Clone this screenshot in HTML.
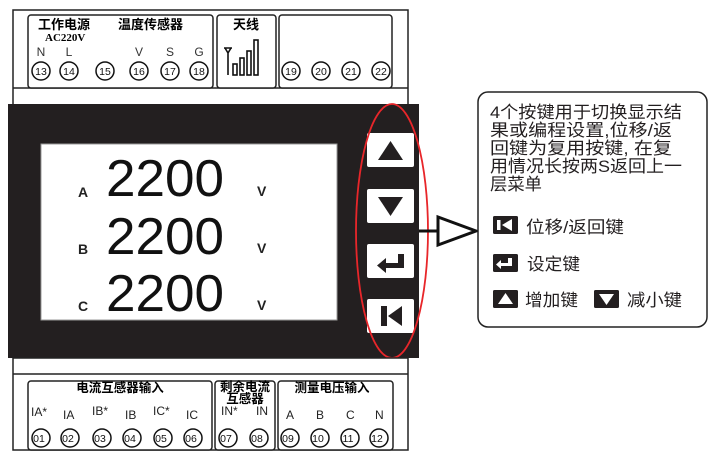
<!DOCTYPE html>
<html><head><meta charset="utf-8"><style>
html,body{margin:0;padding:0;background:#fff;}
svg{display:block;}
text{font-family:"Liberation Sans","Noto Sans CJK SC",sans-serif;}
.cj{font-family:"Liberation Sans","Noto Sans CJK SC",sans-serif;font-weight:bold;}
</style></head><body>
<svg width="718" height="462" viewBox="0 0 718 462" xmlns="http://www.w3.org/2000/svg">
<rect x="13" y="10" width="395" height="96" fill="#fff" stroke="#222" stroke-width="1.5"/>
<line x1="13" y1="88" x2="408" y2="88" stroke="#222" stroke-width="1.5"/>
<rect x="28" y="15" width="185" height="73" rx="3" fill="#fff" stroke="#222" stroke-width="1.5"/>
<rect x="217" y="15" width="59" height="73" rx="3" fill="#fff" stroke="#222" stroke-width="1.5"/>
<rect x="279" y="15" width="113" height="73" rx="3" fill="#fff" stroke="#222" stroke-width="1.5"/>
<text x="38" y="29" font-size="13" class="cj">工作电源</text>
<text x="45" y="41" font-size="11" style="font-family:'Liberation Serif',serif" font-weight="bold">AC220V</text>
<text x="118" y="29" font-size="13" class="cj">温度传感器</text>
<text x="233" y="29" font-size="13" class="cj">天线</text>
<g font-size="12" fill="#333" text-anchor="middle">
<text x="41" y="56">N</text><text x="69" y="56">L</text><text x="139" y="56">V</text><text x="170" y="56">S</text><text x="199" y="56">G</text>
</g>
<g fill="none" stroke="#111" stroke-width="1.5">
<circle cx="41" cy="71" r="9"/><circle cx="69" cy="71" r="9"/><circle cx="105" cy="71" r="9"/><circle cx="139" cy="71" r="9"/><circle cx="170" cy="71" r="9"/><circle cx="199" cy="71" r="9"/>
<circle cx="291" cy="71" r="9"/><circle cx="321" cy="71" r="9"/><circle cx="351" cy="71" r="9"/><circle cx="381" cy="71" r="9"/>
</g>
<g font-size="10.5" text-anchor="middle" fill="#111">
<text x="41" y="75">13</text><text x="69" y="75">14</text><text x="105" y="75">15</text><text x="139" y="75">16</text><text x="170" y="75">17</text><text x="199" y="75">18</text>
<text x="291" y="75">19</text><text x="321" y="75">20</text><text x="351" y="75">21</text><text x="381" y="75">22</text>
</g>
<g fill="none" stroke="#111" stroke-width="1.6">
<path d="M224 48 L232 48 M225 48 L228 53 L231 48 M228 53 L228 75"/>
<rect x="233" y="64" width="4" height="11"/><rect x="240" y="58" width="4" height="17"/><rect x="247" y="51" width="4" height="24"/><rect x="254" y="40" width="4" height="35"/>
</g>
<rect x="8" y="104" width="411" height="254" fill="#231f20"/>
<rect x="41" y="144" width="296" height="176" fill="#fff" stroke="#999" stroke-width="1"/>
<g font-size="14" fill="#222" font-weight="bold">
<text x="78" y="197">A</text><text x="78" y="254">B</text><text x="78" y="311">C</text>
<text x="257" y="196">V</text><text x="257" y="253">V</text><text x="257" y="310">V</text>
</g>
<g font-size="52" fill="#111" style="font-family:'Liberation Mono',monospace">
<text x="106" y="196" textLength="118" lengthAdjust="spacingAndGlyphs">2200</text>
<text x="106" y="254" textLength="118" lengthAdjust="spacingAndGlyphs">2200</text>
<text x="106" y="311" textLength="118" lengthAdjust="spacingAndGlyphs">2200</text>
</g>
<g fill="#fff"><rect x="367" y="133" width="47" height="34" rx="2"/><rect x="367" y="189" width="47" height="34" rx="2"/><rect x="367" y="244" width="47" height="34" rx="2"/><rect x="367" y="299" width="47" height="34" rx="2"/></g>
<g fill="#231f20">
<polygon points="378,160 403,160 390.5,141"/>
<polygon points="378,197 403,197 390.5,216"/>
<path d="M398 254 h6 v14 h-18 v5 l-9 -7.5 l9 -7.5 v5 h12 z"/>
<path d="M381 306 h6 v20 h-6 z M388 316 l14 -10 v20 z"/>
</g>
<ellipse cx="392" cy="231" rx="36" ry="127" fill="none" stroke="#e8262a" stroke-width="1.8"/>
<line x1="419" y1="231" x2="437" y2="231" stroke="#111" stroke-width="3"/>
<polygon points="438,217 438,245 476,231" fill="#fff" stroke="#111" stroke-width="3"/>
<rect x="478" y="92" width="229" height="235" rx="10" fill="#fff" stroke="#222" stroke-width="1.5"/>
<g font-size="17" fill="#231f20" lengthAdjust="spacingAndGlyphs">
<text x="490" y="118" textLength="192" lengthAdjust="spacingAndGlyphs">4个按键用于切换显示结</text>
<text x="490" y="136" textLength="182" lengthAdjust="spacingAndGlyphs">果或编程设置,位移/返</text>
<text x="490" y="154" textLength="182" lengthAdjust="spacingAndGlyphs">回键为复用按键, 在复</text>
<text x="490" y="172" textLength="192" lengthAdjust="spacingAndGlyphs">用情况长按两S返回上一</text>
<text x="490" y="190" textLength="52" lengthAdjust="spacingAndGlyphs">层菜单</text>
<text x="526" y="233" textLength="98" lengthAdjust="spacingAndGlyphs">位移/返回键</text>
<text x="527" y="270" textLength="53" lengthAdjust="spacingAndGlyphs">设定键</text>
<text x="525" y="306" textLength="53" lengthAdjust="spacingAndGlyphs">增加键</text>
<text x="627" y="306" textLength="55" lengthAdjust="spacingAndGlyphs">减小键</text>
</g>
<g>
<rect x="493" y="216" width="25" height="18" rx="1.5" fill="#231f20"/>
<rect x="497" y="220" width="3.5" height="10" fill="#fff"/><polygon points="502,225 512,219 512,231" fill="#fff"/>
<rect x="493" y="254" width="25" height="18" rx="1.5" fill="#231f20"/>
<path d="M508 258 h4 v8 h-11 v3 l-5 -4.5 l5 -4.5 v3 h7 z" fill="#fff"/>
<rect x="493" y="290" width="25" height="18" rx="1.5" fill="#231f20"/>
<polygon points="498,304 513,304 505.5,293" fill="#fff"/>
<rect x="594" y="290" width="25" height="18" rx="1.5" fill="#231f20"/>
<polygon points="599,294 614,294 606.5,305" fill="#fff"/>
</g>
<rect x="13" y="358" width="395" height="92" fill="#fff" stroke="#222" stroke-width="1.5"/>
<line x1="13" y1="374" x2="408" y2="374" stroke="#222" stroke-width="1.5"/>
<rect x="28" y="381" width="184" height="69" rx="3" fill="#fff" stroke="#222" stroke-width="1.5"/>
<rect x="215" y="381" width="60" height="69" rx="3" fill="#fff" stroke="#222" stroke-width="1.5"/>
<rect x="278" y="381" width="115" height="69" rx="3" fill="#fff" stroke="#222" stroke-width="1.5"/>
<text x="120" y="392" font-size="12.5" class="cj" text-anchor="middle">电流互感器输入</text>
<text x="245" y="391" font-size="12.5" class="cj" text-anchor="middle">剩余电流</text>
<text x="245" y="403" font-size="12.5" class="cj" text-anchor="middle">互感器</text>
<text x="332" y="392" font-size="12.5" class="cj" text-anchor="middle">测量电压输入</text>
<g font-size="12" fill="#222">
<text x="31" y="416">IA*</text><text x="63" y="419">IA</text><text x="92" y="415">IB*</text><text x="125" y="419">IB</text><text x="153" y="415">IC*</text><text x="186" y="419">IC</text>
<text x="221" y="415">IN*</text><text x="256" y="415">IN</text>
<text x="286" y="419">A</text><text x="316" y="419">B</text><text x="346" y="419">C</text><text x="375" y="419">N</text>
</g>
<g fill="none" stroke="#111" stroke-width="1.5">
<circle cx="41" cy="438" r="9"/><circle cx="70" cy="438" r="9"/><circle cx="102" cy="438" r="9"/><circle cx="132" cy="438" r="9"/><circle cx="163" cy="438" r="9"/><circle cx="193" cy="438" r="9"/>
<circle cx="228" cy="438" r="9"/><circle cx="259" cy="438" r="9"/><circle cx="290" cy="438" r="9"/><circle cx="320" cy="438" r="9"/><circle cx="350" cy="438" r="9"/><circle cx="379" cy="438" r="9"/>
</g>
<g font-size="10.5" text-anchor="middle" fill="#111">
<text x="39" y="442">01</text><text x="68" y="442">02</text><text x="100" y="442">03</text><text x="130" y="442">04</text><text x="161" y="442">05</text><text x="191" y="442">06</text>
<text x="226" y="442">07</text><text x="257" y="442">08</text><text x="288" y="442">09</text><text x="318" y="442">10</text><text x="348" y="442">11</text><text x="377" y="442">12</text>
</g>
</svg>
</body></html>
